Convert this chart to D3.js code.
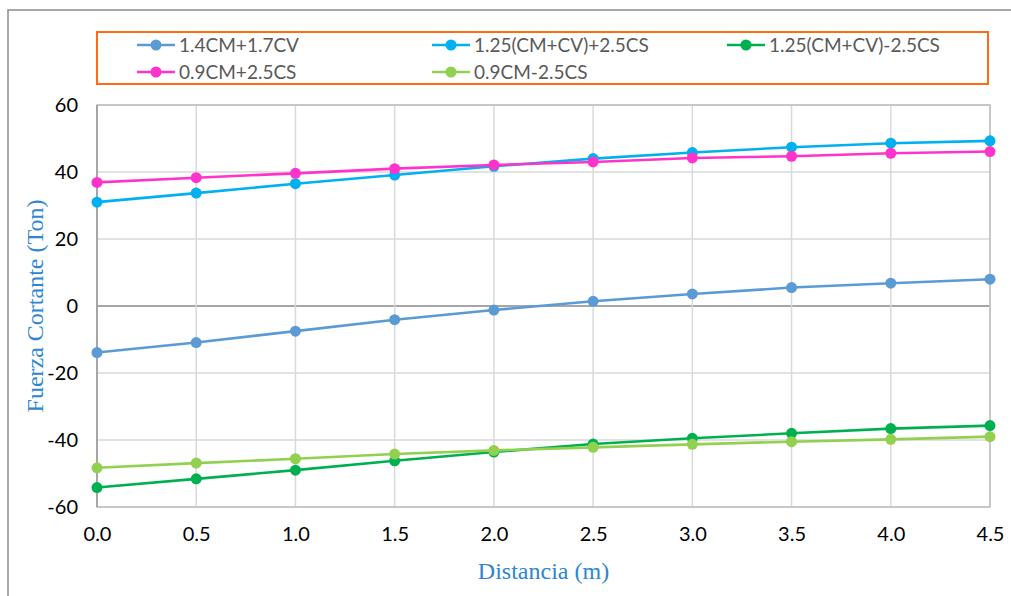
<!DOCTYPE html>
<html>
<head>
<meta charset="utf-8">
<script src="https://cdn.jsdelivr.net/npm/d3@7"></script>
<style>
  html, body { margin: 0; padding: 0; background: #fff; }
  svg { display: block; }
</style>
</head>
<body>
<svg id="chart" width="1011" height="596"></svg>
<script>
// Distance along the beam (m)
const distancia = [0.0, 0.5, 1.0, 1.5, 2.0, 2.5, 3.0, 3.5, 4.0, 4.5];

// Shear force per load combination (Ton)
const combo1 = [-13.9, -10.9, -7.5, -4.1, -1.2, 1.4, 3.6, 5.5, 6.8, 8.0];       // 1.4CM+1.7CV
const combo2 = [31.0, 33.7, 36.5, 39.1, 41.7, 44.0, 45.8, 47.4, 48.6, 49.3];    // 1.25(CM+CV)+2.5CS
const combo3 = [-54.2, -51.6, -49.0, -46.2, -43.6, -41.2, -39.5, -38.0, -36.6, -35.7]; // 1.25(CM+CV)-2.5CS
const combo4 = [36.9, 38.3, 39.6, 41.0, 42.1, 43.0, 44.2, 44.7, 45.6, 46.1];    // 0.9CM+2.5CS
const combo5 = [-48.3, -46.9, -45.6, -44.2, -43.1, -42.2, -41.3, -40.5, -39.8, -39.0]; // 0.9CM-2.5CS

const seriesNames = ["1.4CM+1.7CV", "1.25(CM+CV)+2.5CS", "1.25(CM+CV)-2.5CS", "0.9CM+2.5CS", "0.9CM-2.5CS"];
const seriesColors = ["#5B9BD5", "#00B0F0", "#00B050", "#FF33CC", "#92D050"];

const yTicks = [-60, -40, -20, 0, 20, 40, 60];
const xTicks = [0.0, 0.5, 1.0, 1.5, 2.0, 2.5, 3.0, 3.5, 4.0, 4.5];

const series = [combo1, combo2, combo3, combo4, combo5].map((vals, i) => ({
  name: seriesNames[i],
  color: seriesColors[i],
  points: vals.map((v, j) => ({ x: distancia[j], y: v }))
}));

const svg = d3.select("#chart");
const plot = { left: 97, right: 990, top: 105, bottom: 507 };

const x = d3.scaleLinear().domain([0, 4.5]).range([plot.left, plot.right]);
const y = d3.scaleLinear().domain([-60, 60]).range([plot.bottom, plot.top]);

// Outer chart frame
svg.append("rect")
  .attr("x", 8).attr("y", 10)
  .attr("width", 1200).attr("height", 800)
  .attr("fill", "none").attr("stroke", "#8c8c8c").attr("stroke-width", 1.5);

// Gridlines
const grid = svg.append("g");
grid.selectAll("line.h").data(yTicks).enter().append("line")
  .attr("x1", plot.left).attr("x2", plot.right)
  .attr("y1", d => y(d)).attr("y2", d => y(d))
  .attr("stroke", d => d === 0 ? "#a6a6a6" : "#d9d9d9")
  .attr("stroke-width", d => d === 0 ? 2 : 1.5);
grid.selectAll("line.v").data(xTicks).enter().append("line")
  .attr("x1", d => x(d)).attr("x2", d => x(d))
  .attr("y1", plot.top).attr("y2", plot.bottom)
  .attr("stroke", "#d9d9d9").attr("stroke-width", 1.5);

// Plot area border
svg.append("rect")
  .attr("x", plot.left).attr("y", plot.top)
  .attr("width", plot.right - plot.left).attr("height", plot.bottom - plot.top)
  .attr("fill", "none").attr("stroke", "#bfbfbf").attr("stroke-width", 1.5);
// Vertical value axis line
svg.append("line")
  .attr("x1", plot.left).attr("x2", plot.left)
  .attr("y1", plot.top).attr("y2", plot.bottom)
  .attr("stroke", "#a6a6a6").attr("stroke-width", 2);

// Axes (labels only)
const tickFont = "Lato, 'Noto Sans', sans-serif";
const yAxis = svg.append("g")
  .attr("transform", `translate(${plot.left},0)`)
  .call(d3.axisLeft(y).tickValues(yTicks).tickSize(0).tickPadding(19).tickFormat(d => String(d)));
const xAxis = svg.append("g")
  .attr("transform", `translate(0,${plot.bottom})`)
  .call(d3.axisBottom(x).tickValues(xTicks).tickSize(0).tickPadding(20).tickFormat(d => d.toFixed(1)));
[yAxis, xAxis].forEach(a => {
  a.select(".domain").remove();
  a.selectAll("text")
    .attr("fill", "#000")
    .style("font-family", tickFont)
    .style("font-size", "20px");
});

// Axis titles
svg.append("text")
  .attr("transform", `translate(43,${(plot.top + plot.bottom) / 2}) rotate(-90)`)
  .attr("text-anchor", "middle")
  .style("font-family", "'Liberation Serif', 'Times New Roman', serif")
  .style("font-size", "24px")
  .attr("fill", "#2E86D1")
  .text("Fuerza Cortante (Ton)");
svg.append("text")
  .attr("x", (plot.left + plot.right) / 2).attr("y", 579)
  .attr("text-anchor", "middle")
  .style("font-family", "'Liberation Serif', 'Times New Roman', serif")
  .style("font-size", "24px")
  .attr("fill", "#2E86D1")
  .text("Distancia (m)");

// Series lines and markers
const line = d3.line().x(d => x(d.x)).y(d => y(d.y));
const sg = svg.append("g").selectAll("g").data(series).enter().append("g");
sg.append("path")
  .attr("d", d => line(d.points))
  .attr("fill", "none")
  .attr("stroke", d => d.color)
  .attr("stroke-width", 2.6);
sg.selectAll("circle").data(d => d.points.map(p => ({ ...p, color: d.color }))).enter().append("circle")
  .attr("cx", d => x(d.x)).attr("cy", d => y(d.y))
  .attr("r", 5.5)
  .attr("fill", d => d.color);

// Legend
svg.append("rect")
  .attr("x", 97).attr("y", 32).attr("width", 891).attr("height", 52)
  .attr("fill", "#fff").attr("stroke", "#FF6A13").attr("stroke-width", 2);
const legendPos = [
  { x: 137, y: 45 }, { x: 432, y: 45 }, { x: 727, y: 45 },
  { x: 137, y: 72 }, { x: 432, y: 72 }
];
const lg = svg.append("g").selectAll("g").data(series).enter().append("g")
  .attr("transform", (d, i) => `translate(${legendPos[i].x},${legendPos[i].y})`);
lg.append("line").attr("x1", 0).attr("x2", 38).attr("y1", 0).attr("y2", 0)
  .attr("stroke", d => d.color).attr("stroke-width", 2.6);
lg.append("circle").attr("cx", 19).attr("cy", 0).attr("r", 5.5).attr("fill", d => d.color);
lg.append("text")
  .attr("x", 42).attr("y", 0).attr("dy", "0.35em")
  .style("font-family", tickFont)
  .style("font-size", "19px")
  .attr("fill", "#595959")
  .text(d => d.name);
</script>
</body>
</html>
